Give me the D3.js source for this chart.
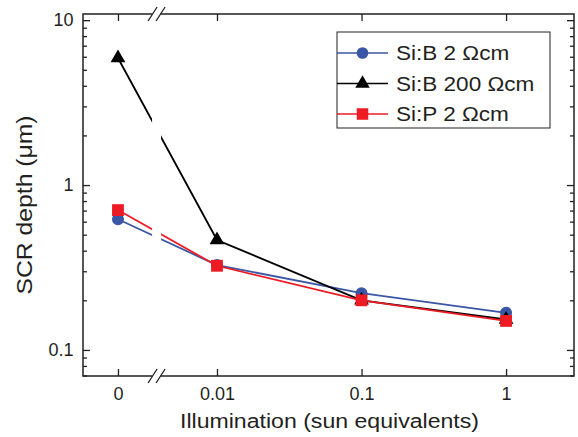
<!DOCTYPE html>
<html>
<head>
<meta charset="utf-8">
<script src="https://cdn.jsdelivr.net/npm/d3@7"></script>
<style>
  body { margin: 0; background: #fff; }
  svg text { font-family: "Liberation Sans", Arial, sans-serif; fill: #231f20; }
</style>
</head>
<body>
<div id="chart"></div>
<script>
// Data
const illum = [0, 0.01, 0.1, 1];
const xLabels = ['0', '0.01', '0.1', '1'];
const siB2 = [0.62, 0.327, 0.221, 0.168];
const siB200 = [5.9, 0.464, 0.2, 0.153];
const siP2 = [0.705, 0.324, 0.2, 0.15];
const seriesNames = ['Si:B 2 \u03A9cm', 'Si:B 200 \u03A9cm', 'Si:P 2 \u03A9cm'];
const yMajor = [0.1, 1, 10];

const width = 578, height = 437;
const margin = { top: 14, right: 4, bottom: 61, left: 83 };
const innerWidth = width - margin.left - margin.right;
const innerHeight = height - margin.top - margin.bottom;

// the original font runs a little wider than Arial
const STRETCH = 1.1;

// x axis is log for illumination > 0, with "0" placed left of an axis break
const ZERO_LOG = -2.685;
const BREAK_LOG = -2.418;
const xv = d => d === 0 ? ZERO_LOG : Math.log10(d);

const x = d3.scaleLinear().domain([-2.927, 0.47]).range([0, innerWidth]);
const y = d3.scaleLog().domain([0.0695, 10.9]).range([innerHeight, 0]);

// minor ticks 2..9 per decade inside the domain
const yMinor = [];
[0.01, 0.1, 1].forEach(base => {
  for (let k = 2; k <= 9; k++) {
    const v = base * k;
    if (v >= y.domain()[0] && v <= y.domain()[1]) yMinor.push(v);
  }
});

const svg = d3.select('#chart').append('svg')
  .attr('width', width)
  .attr('height', height);

const g = svg.append('g')
  .attr('transform', `translate(${margin.left}, ${margin.top})`);

const series = [
  { name: seriesNames[0], values: siB2, color: '#3a56a5', symbol: d3.symbolCircle, size: 113 },
  { name: seriesNames[1], values: siB200, color: '#000000', symbol: d3.symbolTriangle, size: 95 },
  { name: seriesNames[2], values: siP2, color: '#ed1c24', symbol: d3.symbolSquare, size: 140 }
];

const line = d3.line()
  .x((d, i) => x(xv(illum[i])))
  .y(d => y(d));

// Lines
g.selectAll('.series-line')
  .data(series)
  .join('path')
  .attr('class', 'series-line')
  .attr('d', s => line(s.values))
  .attr('fill', 'none')
  .attr('stroke', s => s.color)
  .attr('stroke-width', 1.8);

// White band at the axis break
const bx = x(BREAK_LOG);
g.append('rect')
  .attr('x', bx - 4.5)
  .attr('y', 0)
  .attr('width', 9)
  .attr('height', innerHeight)
  .attr('fill', '#fff');

// Markers, drawn in order blue, black, red
series.forEach(s => {
  g.selectAll(null)
    .data(s.values)
    .join('path')
    .attr('d', d3.symbol().type(s.symbol).size(s.size))
    .attr('transform', (d, i) => `translate(${x(xv(illum[i]))}, ${y(d)})`)
    .attr('fill', s.color);
});

// Axes (ticks point inward)
const axisColor = '#231f20';
function styleAxis(sel) {
  sel.select('.domain').remove();
  sel.selectAll('.tick line').attr('stroke', axisColor).attr('stroke-width', 1.3);
  sel.selectAll('.tick text').style('font-size', '18px').attr('fill', axisColor);
}
function noLabels(sel) {
  sel.selectAll('.tick text').remove();
}

g.append('g')
  .attr('transform', `translate(0, ${innerHeight})`)
  .call(d3.axisBottom(x).tickValues(illum.map(xv)).tickFormat((d, i) => xLabels[i])
    .tickSize(-7).tickPadding(11))
  .call(styleAxis);

g.append('g')
  .call(d3.axisTop(x).tickValues(illum.map(xv)).tickSize(-7))
  .call(styleAxis).call(noLabels);

g.append('g')
  .call(d3.axisLeft(y).tickValues(yMajor).tickFormat(d3.format('~g')).tickSize(-7).tickPadding(9.5))
  .call(styleAxis);
g.append('g')
  .call(d3.axisLeft(y).tickValues(yMinor).tickSize(-4))
  .call(styleAxis).call(noLabels);

g.append('g')
  .attr('transform', `translate(${innerWidth}, 0)`)
  .call(d3.axisRight(y).tickValues(yMajor).tickSize(-7))
  .call(styleAxis).call(noLabels);
g.append('g')
  .attr('transform', `translate(${innerWidth}, 0)`)
  .call(d3.axisRight(y).tickValues(yMinor).tickSize(-4))
  .call(styleAxis).call(noLabels);

// Frame
g.append('rect')
  .attr('width', innerWidth)
  .attr('height', innerHeight)
  .attr('fill', 'none')
  .attr('stroke', axisColor)
  .attr('stroke-width', 1.5);

// Break marks on top and bottom axes
[0, innerHeight].forEach(yy => {
  g.append('rect')
    .attr('x', bx - 4)
    .attr('y', yy - 2)
    .attr('width', 8)
    .attr('height', 4)
    .attr('fill', '#fff');
  [-4, 4].forEach(off => {
    g.append('line')
      .attr('x1', bx + off - 4.5)
      .attr('y1', yy + 7)
      .attr('x2', bx + off + 4.5)
      .attr('y2', yy - 7)
      .attr('stroke', axisColor)
      .attr('stroke-width', 1.3);
  });
});

// Axis titles
svg.append('text')
  .attr('transform', `translate(${margin.left + innerWidth / 2 + 1}, 428) scale(${STRETCH}, 1)`)
  .attr('text-anchor', 'middle')
  .style('font-size', '21px')
  .text('Illumination (sun equivalents)');

svg.append('text')
  .attr('transform', `translate(32, 205) rotate(-90) scale(${STRETCH}, 1)`)
  .attr('text-anchor', 'middle')
  .style('font-size', '22.5px')
  .text('SCR depth (\u03BCm)');

// Legend
const legend = svg.append('g').attr('transform', 'translate(337, 32)');
legend.append('rect')
  .attr('width', 213)
  .attr('height', 96)
  .attr('fill', '#fff')
  .attr('stroke', axisColor)
  .attr('stroke-width', 1);

const legendItems = legend.selectAll('.legend')
  .data(series)
  .join('g')
  .attr('class', 'legend')
  .attr('transform', (d, i) => `translate(0, ${21 + i * 30.5})`);

legendItems.append('line')
  .attr('x1', 0).attr('x2', 51)
  .attr('stroke', d => d.color)
  .attr('stroke-width', 1.5);
legendItems.append('path')
  .attr('d', d => d3.symbol().type(d.symbol).size(d.size * 0.95)())
  .attr('transform', 'translate(25.5, 0)')
  .attr('fill', d => d.color);
legendItems.append('text')
  .attr('transform', `translate(59, 0) scale(${STRETCH}, 1)`)
  .attr('dy', '0.35em')
  .style('font-size', '20.5px')
  .text(d => d.name);
</script>
</body>
</html>
